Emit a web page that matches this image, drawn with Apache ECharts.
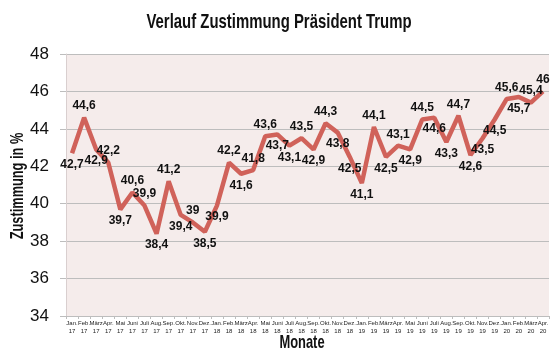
<!DOCTYPE html>
<html>
<head>
<meta charset="utf-8">
<script src="https://cdn.jsdelivr.net/npm/echarts@6/dist/echarts.min.js"></script>
<style>
html,body{margin:0;padding:0;background:#fff;}
#c{width:559px;height:357px;}
</style>
</head>
<body>
<div id="c"></div>
<script>
var months = ['Jan.','Feb.','März','Apr.','Mai','Juni','Juli','Aug.','Sep.','Okt.','Nov.','Dez.',
              'Jan.','Feb.','März','Apr.','Mai','Juni','Juli','Aug.','Sep.','Okt.','Nov.','Dez.',
              'Jan.','Feb.','März','Apr.','Mai','Juni','Juli','Aug.','Sep.','Okt.','Nov.','Dez.',
              'Jan.','Feb.','März','Apr.'];
var years = ['17','17','17','17','17','17','17','17','17','17','17','17',
             '18','18','18','18','18','18','18','18','18','18','18','18',
             '19','19','19','19','19','19','19','19','19','19','19','19',
             '20','20','20','20'];
var approval = [42.7, 44.6, 42.9, 42.2, 39.7, 40.6, 39.9, 38.4, 41.2, 39.4, 39, 38.5,
                39.9, 42.2, 41.6, 41.8, 43.6, 43.7, 43.1, 43.5, 42.9, 44.3, 43.8, 42.5,
                41.1, 44.1, 42.5, 43.1, 42.9, 44.5, 44.6, 43.3, 44.7, 42.6, 43.5, 44.5,
                45.6, 45.7, 45.4, 46];
var yTicks = [34, 36, 38, 40, 42, 44, 46, 48];
var titleText = 'Verlauf Zustimmung Präsident Trump';
var xName = 'Monate';
var yName = 'Zustimmung in %';

var categories = months.map(function(m, i){ return m + '\n' + years[i]; });
var FONT = '"Liberation Sans", Arial, sans-serif';

// label above local highs, below local lows; flip when the neighbour's label would collide
var sides = [];
approval.forEach(function(v, i){
  var prev = i > 0 ? approval[i-1] : v;
  var next = i < approval.length - 1 ? approval[i+1] : v;
  var above = v >= (prev + next) / 2;
  if (i > 0 && sides[i-1] === above && Math.abs(v - prev) <= 0.5) above = !above;
  else if (i > 0 && !sides[i-1] && above && prev - v >= 1.0) above = false;
  sides.push(above);
});
var seriesData = approval.map(function(v, i){
  var above = sides[i];
  return {value: v, label: {position: above ? 'top' : 'bottom', offset: above ? [9, -6] : [9, 6]}};
});

function txt(text, x, y, size, sx, rot){
  return {
    type: 'text', x: x, y: y, scaleX: sx, rotation: rot || 0, silent: true,
    style: {
      text: text, font: 'bold ' + size + 'px ' + FONT, fill: '#111',
      textAlign: 'center', textVerticalAlign: 'middle',
      align: 'center', verticalAlign: 'middle'
    }
  };
}

var chart = echarts.init(document.getElementById('c'), null, {renderer:'canvas'});
chart.setOption({
  animation: false,
  backgroundColor: '#ffffff',
  graphic: {elements: [
    txt(titleText, 279, 22, 21, 0.71),
    txt(xName, 302, 343, 19, 0.68),
    txt(yName, 18, 186, 18, 0.71, Math.PI / 2)
  ]},
  grid: {left: 66, right: 10, top: 54, bottom: 41, show: true, backgroundColor: '#f5eceb', borderWidth: 0},
  xAxis: {
    type: 'category',
    data: categories,
    boundaryGap: true,
    axisLine: {lineStyle: {color: '#bdbdbd', width: 1}},
    axisTick: {show: true, length: 3, lineStyle: {color: '#bdbdbd'}},
    axisLabel: {interval: 0, fontFamily: FONT, fontSize: 6, color: '#222', lineHeight: 8, margin: 3}
  },
  yAxis: {
    type: 'value',
    min: yTicks[0], max: yTicks[yTicks.length-1], interval: 2,
    axisLine: {show: true, lineStyle: {color: '#d9cfcf', width: 1}},
    axisTick: {show: true, length: 6, lineStyle: {color: '#bdbdbd'}},
    axisLabel: {fontFamily: FONT, fontSize: 17, color: '#111', margin: 17},
    splitLine: {lineStyle: {color: '#bdbdbd', width: 1}}
  },
  series: [{
    type: 'line',
    data: seriesData,
    symbol: 'circle',
    symbolSize: 1,
    showSymbol: true,
    itemStyle: {color: 'rgba(0,0,0,0)'},
    lineStyle: {color: '#d0625a', width: 4.5},
    label: {
      show: true,
      fontFamily: FONT, fontWeight: 'bold', fontSize: 12, color: '#111',
      formatter: function(p){ return String(p.value).replace('.', ','); }
    },
    labelLayout: {hideOverlap: false}
  }]
});
</script>
</body>
</html>
